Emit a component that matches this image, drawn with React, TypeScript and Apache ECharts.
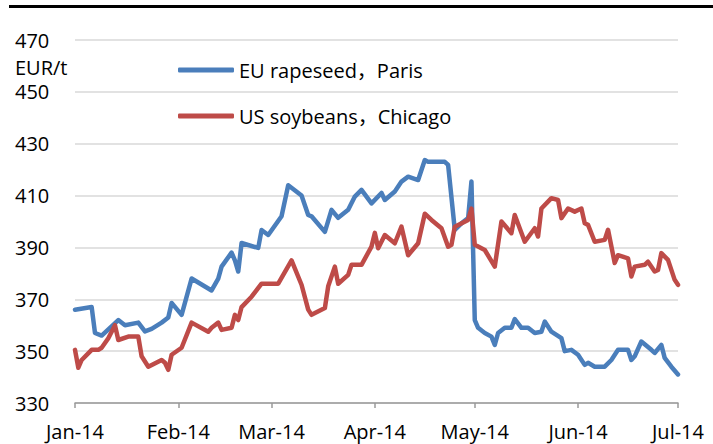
import React, { useEffect, useRef } from "react";
import * as echarts from "echarts";

const seriesNames = ["EU rapeseed，Paris", "US soybeans，Chicago"];
const monthNames = ["Jan", "Feb", "Mar", "Apr", "May", "Jun", "Jul", "Aug", "Sep", "Oct", "Nov", "Dec"];
const yUnit = "EUR/t";

const euRapeseed: [string, number][] = [
  ["2014-01-01", 366], ["2014-01-06", 367], ["2014-01-07", 357], ["2014-01-09", 356],
  ["2014-01-14", 362], ["2014-01-16", 360], ["2014-01-20", 361], ["2014-01-22", 357.6],
  ["2014-01-24", 358.6], ["2014-01-27", 361], ["2014-01-29", 363], ["2014-01-30", 368.6],
  ["2014-02-02", 364], ["2014-02-05", 378], ["2014-02-11", 373.4], ["2014-02-13", 378],
  ["2014-02-14", 382.6], ["2014-02-17", 388], ["2014-02-18", 385], ["2014-02-19", 380.7],
  ["2014-02-20", 391.7], ["2014-02-25", 389.8], ["2014-02-26", 396.7], ["2014-02-28", 394.8],
  ["2014-03-04", 402], ["2014-03-06", 414], ["2014-03-10", 410], ["2014-03-12", 402.5],
  ["2014-03-13", 402], ["2014-03-17", 396], ["2014-03-19", 404.5], ["2014-03-21", 401.4],
  ["2014-03-24", 404.5], ["2014-03-26", 409.6], ["2014-03-28", 412.2], ["2014-03-31", 407],
  ["2014-04-03", 411], ["2014-04-04", 408.3], ["2014-04-07", 411.6], ["2014-04-09", 415.4],
  ["2014-04-11", 417.3], ["2014-04-14", 416], ["2014-04-16", 423.7], ["2014-04-17", 423],
  ["2014-04-22", 423], ["2014-04-23", 421.8], ["2014-04-25", 396.8], ["2014-04-27", 399.3],
  ["2014-04-29", 401.3], ["2014-04-30", 415.4], ["2014-05-01", 362], ["2014-05-02", 359],
  ["2014-05-04", 357], ["2014-05-06", 355.6], ["2014-05-07", 352.4], ["2014-05-08", 357],
  ["2014-05-10", 359], ["2014-05-12", 359], ["2014-05-13", 362.4], ["2014-05-15", 359],
  ["2014-05-17", 359], ["2014-05-19", 357], ["2014-05-21", 357.5], ["2014-05-22", 361.4],
  ["2014-05-24", 357.5], ["2014-05-27", 355], ["2014-05-28", 350], ["2014-05-30", 350.5],
  ["2014-06-01", 348.6], ["2014-06-03", 344.7], ["2014-06-04", 345.5], ["2014-06-06", 344],
  ["2014-06-09", 344], ["2014-06-11", 346.6], ["2014-06-13", 350.5], ["2014-06-16", 350.5],
  ["2014-06-17", 346.6], ["2014-06-18", 348], ["2014-06-20", 353.7], ["2014-06-23", 350.5],
  ["2014-06-24", 349.3], ["2014-06-26", 352.4], ["2014-06-27", 347.4], ["2014-06-29", 344],
  ["2014-07-01", 341]
];

const usSoybeans: [string, number][] = [
  ["2014-01-01", 350.5], ["2014-01-02", 343.6], ["2014-01-03", 346.6], ["2014-01-06", 350.5],
  ["2014-01-08", 350.5], ["2014-01-09", 351.3], ["2014-01-11", 355], ["2014-01-13", 360],
  ["2014-01-14", 354.3], ["2014-01-17", 355.6], ["2014-01-20", 355.6], ["2014-01-21", 348],
  ["2014-01-23", 344], ["2014-01-27", 346.6], ["2014-01-28", 345.5], ["2014-01-29", 342.8],
  ["2014-01-30", 348.6], ["2014-02-02", 351.3], ["2014-02-05", 361], ["2014-02-10", 357.5],
  ["2014-02-11", 359], ["2014-02-13", 361], ["2014-02-14", 358.2], ["2014-02-17", 359],
  ["2014-02-18", 364], ["2014-02-19", 362], ["2014-02-20", 367], ["2014-02-23", 371],
  ["2014-02-26", 376], ["2014-03-03", 376], ["2014-03-07", 385], ["2014-03-10", 375.6],
  ["2014-03-12", 366], ["2014-03-13", 364], ["2014-03-17", 366.6], ["2014-03-18", 375],
  ["2014-03-20", 382.6], ["2014-03-21", 376], ["2014-03-24", 379.4], ["2014-03-25", 383.3],
  ["2014-03-28", 383.3], ["2014-03-31", 390.3], ["2014-04-01", 395.6], ["2014-04-02", 389.7],
  ["2014-04-04", 394.8], ["2014-04-07", 391.6], ["2014-04-09", 398], ["2014-04-11", 387],
  ["2014-04-14", 391.6], ["2014-04-16", 403], ["2014-04-18", 400.6], ["2014-04-21", 397.4],
  ["2014-04-23", 390.3], ["2014-04-24", 391], ["2014-04-25", 398], ["2014-04-29", 400.6],
  ["2014-04-30", 405], ["2014-05-01", 391], ["2014-05-04", 389], ["2014-05-07", 382.6],
  ["2014-05-09", 400], ["2014-05-12", 395.5], ["2014-05-13", 402.5], ["2014-05-16", 392.2],
  ["2014-05-19", 397.4], ["2014-05-20", 394.2], ["2014-05-21", 405], ["2014-05-24", 409],
  ["2014-05-26", 408.3], ["2014-05-27", 401.3], ["2014-05-29", 405], ["2014-05-31", 403.8],
  ["2014-06-02", 405], ["2014-06-03", 399.3], ["2014-06-04", 398.7], ["2014-06-06", 392.2],
  ["2014-06-09", 392.9], ["2014-06-10", 396.8], ["2014-06-12", 384], ["2014-06-13", 387],
  ["2014-06-16", 385.8], ["2014-06-17", 378.8], ["2014-06-18", 382.6], ["2014-06-21", 383.3],
  ["2014-06-22", 384.5], ["2014-06-24", 380.7], ["2014-06-25", 381.3], ["2014-06-26", 387.8],
  ["2014-06-28", 385.2], ["2014-06-30", 377.5], ["2014-07-01", 375.6]
];

const FONT = "'Open Sans', 'Noto Sans CJK SC', sans-serif";

export default function App() {
  const ref = useRef<HTMLDivElement>(null);
  useEffect(() => {
    if (!ref.current) return;
    const chart = echarts.init(ref.current, undefined, { renderer: "svg" });
    chart.setOption({
      animation: false,
      backgroundColor: "#ffffff",
      grid: { left: 75, right: 35, top: 40, bottom: 41, containLabel: false },
      legend: {
        orient: "vertical",
        left: 178,
        top: 60,
        padding: 0,
        itemWidth: 56,
        itemHeight: 5,
        itemGap: 26,
        icon: "roundRect",
        textStyle: { fontSize: 20, color: "#000", fontFamily: FONT },
        data: seriesNames,
      },
      xAxis: {
        type: "time",
        min: "2014-01-01",
        max: "2014-07-01",
        splitNumber: 6,
        minInterval: 28 * 86400000,
        maxInterval: 31 * 86400000,
        axisLine: { lineStyle: { color: "#9a9a9a", width: 1.5 } },
        axisTick: { show: true, length: 5, lineStyle: { color: "#9a9a9a", width: 1.5 } },
        splitLine: { show: false },
        axisLabel: {
          fontSize: 20,
          color: "#000",
          fontFamily: FONT,
          margin: 18,
          showMinLabel: true,
          showMaxLabel: true,
          hideOverlap: false,
          formatter: (v: number) => monthNames[new Date(v).getMonth()] + "-14",
        },
      },
      yAxis: {
        type: "value",
        min: 330,
        max: 470,
        interval: 20,
        axisLine: { show: false },
        axisTick: { show: false },
        splitLine: { lineStyle: { color: "#d9d9d9", width: 1.5 } },
        axisLabel: { fontSize: 20, color: "#000", fontFamily: FONT, align: "left", margin: 60 },
      },
      graphic: [
        { type: "rect", left: 9, top: 5, shape: { width: 704, height: 3 }, style: { fill: "#000" } },
        { type: "text", left: 15, top: 57, style: { text: yUnit, fontSize: 20, fill: "#000", fontFamily: FONT } },
      ],
      series: [
        {
          name: seriesNames[0],
          type: "line",
          data: euRapeseed,
          showSymbol: false,
          symbol: "none",
          color: "#4a7ebb",
          lineStyle: { width: 4.5, color: "#4a7ebb", join: "round", cap: "round" },
        },
        {
          name: seriesNames[1],
          type: "line",
          data: usSoybeans,
          showSymbol: false,
          symbol: "none",
          color: "#be4b48",
          lineStyle: { width: 4.5, color: "#be4b48", join: "round", cap: "round" },
        },
      ],
    });
    return () => chart.dispose();
  }, []);
  return <div ref={ref} style={{ position: "fixed", left: 0, top: 0, width: 713, height: 444 }} />;
}
